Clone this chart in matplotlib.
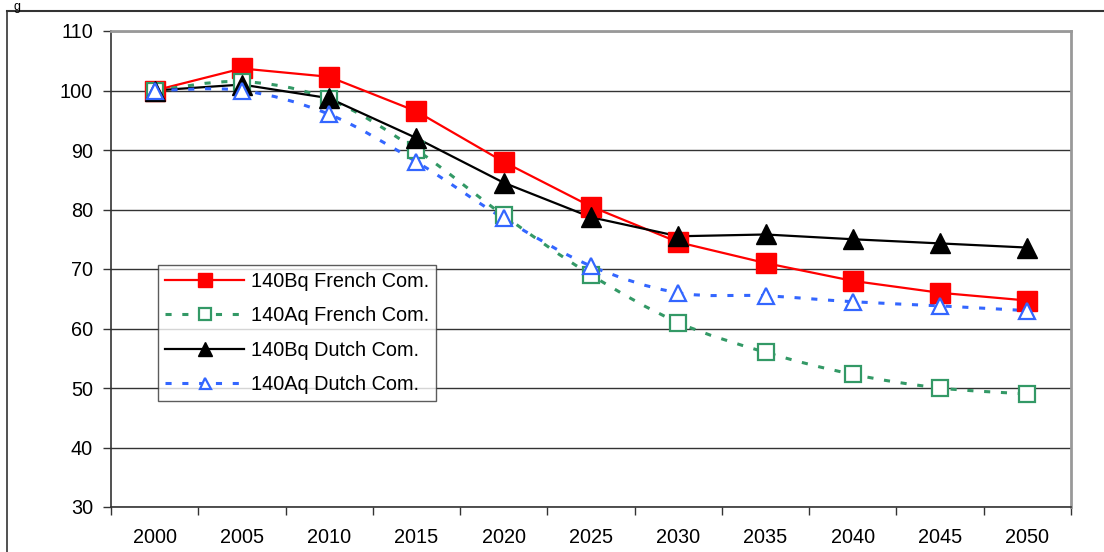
import numpy as np
import matplotlib
matplotlib.use("Agg")
import matplotlib.pyplot as plt
from matplotlib.path import Path
from matplotlib.patches import PathPatch
from matplotlib.lines import Line2D

plt.rcParams['font.family'] = ['Liberation Sans', 'DejaVu Sans']

years = ['2000', '2005', '2010', '2015', '2020', '2025', '2030', '2035', '2040', '2045', '2050']
bq_french = [100, 103.7, 102.3, 96.5, 88, 80.5, 74.5, 71, 68, 66, 64.7]
aq_french = [100, 101.5, 98.5, 90, 79, 69, 61, 56, 52.3, 50, 49]
bq_dutch = [100, 101, 98.7, 92, 84.5, 78.7, 75.5, 75.8, 75, 74.3, 73.6]
aq_dutch = [100, 100, 96, 88, 78.5, 70.5, 66, 65.5, 64.5, 63.8, 63]
labels = ['140Bq French Com.', '140Aq French Com.', '140Bq Dutch Com.', '140Aq Dutch Com.']

FS = 14.3

fig = plt.figure(figsize=(11.04, 5.52), dpi=100)
ax = fig.add_axes([111/1104, 1-507/552, 960/1104, 476/552])

x = np.arange(len(years))


def smooth_path(xs, ys):
    # Excel-style smoothed line: cubic Bezier segments through the points
    verts = [(xs[0], ys[0])]
    codes = [Path.MOVETO]
    n = len(xs)
    for i in range(n - 1):
        p0 = (xs[i - 1], ys[i - 1]) if i > 0 else (xs[i], ys[i])
        p1 = (xs[i], ys[i])
        p2 = (xs[i + 1], ys[i + 1])
        p3 = (xs[i + 2], ys[i + 2]) if i + 2 < n else (xs[i + 1], ys[i + 1])
        t = 1 / 6
        c1 = (p1[0] + (p2[0] - p0[0]) * t, p1[1] + (p2[1] - p0[1]) * t)
        c2 = (p2[0] - (p3[0] - p1[0]) * t, p2[1] - (p3[1] - p1[1]) * t)
        verts += [c1, c2, p2]
        codes += [Path.CURVE4] * 3
    return Path(verts, codes)


series = [
    (bq_french, False, dict(color='#FF0000', ls='-', lw=1.6),
     dict(marker='s', ms=14.5, mfc='#FF0000', mec='#FF0000', mew=1)),
    (aq_french, True, dict(color='#339966', ls=(0, (2, 3.5)), lw=2.2),
     dict(marker='s', ms=11.5, mfc='white', mec='#339966', mew=1.6)),
    (bq_dutch, False, dict(color='#000000', ls='-', lw=1.6),
     dict(marker='^', ms=14.5, mfc='#000000', mec='#000000', mew=1)),
    (aq_dutch, True, dict(color='#3366FF', ls=(0, (2, 3.5)), lw=2.2),
     dict(marker='^', ms=11, mfc='white', mec='#3366FF', mew=1.6)),
]

handles = []
for i, (vals, smooth, lst, mst) in enumerate(series):
    if smooth:
        patch = PathPatch(smooth_path(x, vals), facecolor='none', edgecolor=lst['color'],
                          linestyle=lst['ls'], linewidth=lst['lw'], zorder=3 + i)
        ax.add_patch(patch)
    else:
        ax.plot(x, vals, color=lst['color'], linestyle=lst['ls'], linewidth=lst['lw'], zorder=3 + i)
    ax.plot(x, vals, linestyle='none', zorder=7 + i, **mst)
    handles.append(Line2D([], [], color=lst['color'], linestyle=lst['ls'], linewidth=lst['lw'],
                          marker=mst['marker'], ms=mst['ms'] * 0.72, mfc=mst['mfc'],
                          mec=mst['mec'], mew=mst['mew']))

ax.set_xlim(-0.5, len(years) - 0.5)
ax.set_ylim(30, 110)
ax.set_yticks(np.arange(30, 111, 10))
ax.set_xticks(x)
ax.set_xticklabels(years)
ax.set_xticks(np.arange(-0.5, len(years), 1), minor=True)
ax.tick_params(axis='x', which='major', length=0, pad=15, labelsize=FS)
ax.tick_params(axis='x', which='minor', length=6, width=1, color='#333333')
ax.tick_params(axis='y', length=6, width=1, color='#333333', labelsize=FS, pad=7)

ax.grid(axis='y', color='#333333', linewidth=1)
ax.set_axisbelow(True)
for s in ['top', 'right']:
    ax.spines[s].set_color('#999999')
    ax.spines[s].set_linewidth(2)
for s in ['left', 'bottom']:
    ax.spines[s].set_color('#333333')
    ax.spines[s].set_linewidth(1.2)

leg = ax.legend(handles, labels, loc='upper left', bbox_to_anchor=((158 - 111) / 960, (507 - 265) / 476),
                frameon=True, fancybox=False, fontsize=FS, handlelength=4.0, handletextpad=0.35,
                borderpad=0.35, labelspacing=0.78, borderaxespad=0)
leg.get_frame().set_edgecolor('#333333')
leg.get_frame().set_linewidth(1)
leg.set_zorder(20)

# Outer chart border (top and left)
fig.add_artist(Line2D([7/1104, 7/1104], [0, 1 - 11/552], color='#333333', lw=1.2, transform=fig.transFigure))
fig.add_artist(Line2D([7/1104, 1], [1 - 11/552, 1 - 11/552], color='#333333', lw=1.5, transform=fig.transFigure))
fig.text(14/1104, 0.999, 'g', fontsize=9, va='top', ha='left')

fig.savefig('out.png', dpi=100)
